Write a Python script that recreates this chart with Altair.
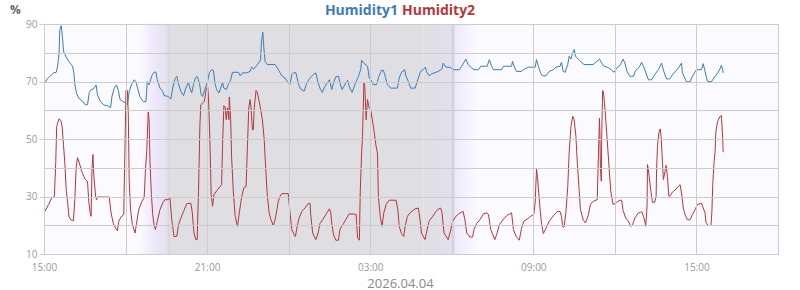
import altair as alt
import pandas as pd

BASE = pd.Timestamp("2026-04-03 15:00")
DATE_LABEL = "2026.04.04"

# Humidity1 (minutes after 15:00, %)
h1_min = [2, 7, 13, 21, 27, 30, 33, 35, 38, 41, 43, 49, 56, 63, 66, 68, 72, 77, 85, 91, 96, 100, 104, 109, 115, 118, 124, 132, 140, 147, 150, 155, 160, 164, 168, 174, 180, 184, 188, 194, 199, 203, 207, 212, 219, 225, 228, 232, 238, 243, 247, 250, 256,
          262, 265, 274, 280, 284, 289, 293, 297, 302, 308, 313, 319, 322, 326, 330, 334, 338, 343, 347, 350, 355, 361, 365, 370, 374, 377, 381, 386, 390, 394, 397, 402, 407, 412, 416, 429, 433, 438, 446, 455, 458, 463, 468, 475, 478, 480, 483, 485, 488, 493, 510, 515, 521,
          525, 532, 539, 543, 547, 552, 556, 561, 566, 574, 580, 587, 594, 600, 605, 609, 614, 620, 630, 635, 639, 644, 650, 653, 658, 664, 670, 675, 680, 686, 694, 699, 701, 706, 714, 718, 721, 727, 734, 739, 745, 749, 753, 758, 765, 780, 784, 789,
          796, 799, 804, 809, 819, 824, 831, 837, 842, 844, 850, 856, 870, 878, 881, 887, 897, 902, 917, 922, 931, 936, 944, 949, 959, 964, 978, 983, 988, 992, 1010, 1014, 1032, 1034, 1039, 1043, 1054, 1058,
          1069, 1084, 1087, 1091, 1096, 1100, 1108, 1115, 1124, 1130, 1139, 1142, 1146, 1150, 1156, 1159, 1163, 1167, 1170, 1173, 1179, 1184, 1192, 1212, 1218, 1226, 1231, 1236, 1245, 1253, 1258, 1264, 1271, 1278, 1282, 1287, 1293, 1301, 1306, 1314,
          1319, 1323, 1326, 1334, 1341, 1348, 1356, 1363, 1368, 1374, 1381, 1389, 1400, 1407, 1409, 1415, 1418, 1426, 1431, 1440, 1451, 1455, 1459, 1464, 1473, 1481, 1488, 1493, 1495, 1498, 1499]
h1_val = [69.5, 70.9, 71.8, 73, 73.2, 75.3, 79.3, 88, 89.4, 85.1, 80.5, 78.5, 76.7, 75.3, 73, 68.9, 65.8, 64.1, 63.2, 61.9, 61.9, 66.2, 67.2, 67.4, 68.8, 65.4, 63.2, 61.8, 61.6, 60.9, 64.8, 67.7, 68.8, 66.9, 63.7, 63.1, 62.5, 61.8, 66.6, 69.2, 70.6, 69.9, 67.4, 64.6, 63, 63, 70, 68.9, 72, 73.2, 73.3, 70.6, 67.7,
          66.6, 65.1, 64.8, 63.9, 67.7, 70.9, 71.8, 69.2, 66.6, 65.1, 67.7, 69.7, 67.7, 66, 68.9, 71.2, 71.8, 69.5, 65.4, 64.8, 67.2, 70, 73, 74.1, 73.9, 69.5, 67.2, 66, 67.7, 69.7, 67.7, 67.2, 68.9, 70.6, 73.2, 73.2, 72, 73, 73, 73.5, 75, 74.3, 75.3, 76.7, 77.6, 84, 87.1, 82.2, 77, 75.9, 75.9, 74.7, 73,
          72, 71.2, 69.5, 68.9, 72.4, 73.2, 73, 69.5, 67.4, 66.6, 69.5, 71.2, 72.4, 73, 69.5, 67.7, 66.2, 68.3, 70.6, 67.2, 69.5, 71.6, 71.8, 69.5, 67.2, 68.9, 70.4, 67.7, 66.2, 68.9, 71.8, 74.1, 77.4, 76.4, 75.3, 71.2, 70.6, 68.9, 68.9, 71.8, 73.9, 73.9, 71.8, 68.9, 67.7, 67.7, 71.2, 73.2,
          74.1, 71.8, 70.1, 67.7, 67.7, 70.1, 73.5, 74.1, 75, 73.5, 72, 72.7, 73.5, 74.3, 76.4, 75, 74.9, 74.1, 74.1, 75.3, 77.8, 75.9, 74.7, 74.1, 74.1, 75.3, 75.3, 77.6, 75.3, 74.1, 74.1, 75.3, 75.3, 77, 74.7, 73.5, 73.5, 74.1,
          75, 75, 77.6, 75.3, 73, 72, 72, 73.5, 74.1, 75, 75.3, 76.7, 73.5, 73.2, 75.9, 78.8, 77.8, 80.1, 81.1, 78.8, 77.8, 77, 75.9, 75.9, 76.7, 77.8, 76.4, 75.3, 74.9, 73.9, 73.2, 74.7, 75.5, 77.8, 76.4, 73.5, 71.8, 71.8, 73.9, 75,
          76.7, 75.3, 74.1, 70.6, 70.6, 72.4, 74.1, 76.4, 73.5, 70.9, 70.9, 72.7, 74.7, 76.4, 73, 70.9, 69.9, 69.9, 71.8, 74.1, 74.1, 76.2, 73.5, 70.1, 69.9, 71.8, 73.2, 74.7, 75.7, 74.1, 73]

# Humidity2 (minutes after 15:00, %)
h2_min = [2, 10, 17, 23, 26, 28, 33, 37, 40, 43, 46, 49, 52, 55, 59, 65, 68, 71, 74, 78, 83, 91, 96, 99, 102, 104, 106, 108, 110, 114, 116, 118, 144, 148, 153, 159, 162, 165, 170, 176, 178, 181, 184, 186, 188, 191, 195, 201, 205, 209, 216, 221, 224, 227, 230, 232, 234, 237, 240, 243, 246, 250, 256, 262, 267,
          274, 278, 282, 287, 293, 297, 302, 308, 315, 324, 327, 331, 335, 338, 341, 344, 346, 350, 354, 358, 361, 363, 366, 369, 372, 375, 383, 392, 394, 397, 400, 402, 405, 408, 409, 412, 414, 418, 422, 427, 431, 436, 441, 446, 449, 452, 455, 457, 460, 462, 464, 468, 471, 477, 482, 486, 489, 493, 497, 501, 506, 510, 514, 517, 521, 525,
          539, 543, 547, 552, 555, 558, 563, 569, 576, 583, 587, 589, 593, 600, 605, 609, 615, 622, 630, 633, 635, 639, 644, 650, 653, 661, 668, 673, 684, 689, 692, 696, 698, 701, 703, 706, 708, 711, 714, 717, 721, 727, 733, 736, 738, 742, 746, 750, 755, 762, 777, 781, 784, 789,
          794, 797, 802, 809, 819, 826, 830, 833, 841, 844, 850, 858, 867, 875, 878, 883, 892, 896, 902, 909, 918, 925, 929, 933, 940, 946, 949, 955, 962, 970, 978, 981, 986, 995, 999, 1005, 1014, 1021, 1028, 1032, 1036, 1042, 1049,
          1054, 1059, 1067, 1074, 1081, 1084, 1087, 1089, 1092, 1095, 1098, 1102, 1108, 1115, 1124, 1133, 1139, 1142, 1145, 1148, 1152, 1156, 1159, 1163, 1167, 1170, 1174, 1177, 1181, 1184, 1190, 1195, 1201, 1206, 1212, 1221, 1223, 1226, 1227, 1228, 1230, 1231, 1233, 1235, 1238, 1243, 1248, 1251, 1256, 1264, 1271, 1275, 1278, 1284, 1290, 1295, 1299, 1304, 1312, 1317,
          1319, 1323, 1326, 1328, 1331, 1332, 1334, 1337, 1340, 1343, 1348, 1351, 1352, 1354, 1357, 1360, 1362, 1365, 1367, 1370, 1373, 1376, 1379, 1381, 1387, 1395, 1400, 1404, 1407, 1411, 1415, 1420, 1426, 1431, 1437, 1442, 1448, 1451, 1455, 1459, 1461, 1466, 1472, 1474, 1476, 1479, 1481, 1483, 1486, 1488, 1492, 1495, 1496, 1498, 1499]
h2_val = [24.8, 27.2, 29.5, 30.1, 42.2, 54.4, 57, 56.5, 54.4, 48, 41.7, 32.4, 28.3, 23.1, 21.9, 21.6, 28.9, 40, 43.5, 41.7, 38.8, 35.9, 35.3, 28, 24.3, 23.1, 40, 44.6, 37, 30.1, 28.9, 29.8, 29.8, 24.3, 20.6, 18.8, 18.1, 21.4, 22.9, 23.7, 41.2, 66.9, 66.9, 59, 35.9, 25.4, 20.2, 17.3, 21.4, 25.4, 28.3, 29.5, 39.4, 46.3, 59.4, 56.7, 41.7, 30.7, 23.7, 19.9, 18.5, 21.4, 25.4, 27.8, 28.9,
          28.9, 29.5, 21.9, 16.1, 16.1, 20.2, 22.5, 24.8, 27.5, 27.7, 24.8, 17.3, 15, 15, 31.8, 54.4, 61.9, 62.5, 63.1, 67.2, 68.3, 64.8, 50.3, 30.6, 26.6, 30.6, 32.4, 34.1, 47.4, 61.6, 61.1, 56.7, 60.8, 56.7, 64.6, 56.7, 44, 31.2, 23.1, 19.6, 24.3, 29.5, 33, 33.5, 47.4, 60.8, 63.7, 60.8, 53.2, 53.2, 60.8, 66.9, 66, 61.4, 56.7, 49.9, 40.6, 30.1, 24.3, 21.9, 19.9, 21.9, 25.4, 28.3, 30.1, 31,
          31, 24.3, 18.5, 16.7, 16.1, 19, 22.5, 24.8, 26, 27.5, 27.7, 23.1, 17.3, 15, 17.3, 20.6, 21.9, 23.7, 25.7, 24.3, 20.8, 16.7, 14.8, 14.8, 18.5, 20.6, 22.5, 23.9, 23.9, 23.7, 15.6, 14.8, 31.8, 45.1, 50.9, 69.5, 68.3, 56.7, 63.7, 61.1, 60.2, 54.4, 47.4, 45.1, 30.1, 23.1, 19.6, 24.3, 27.2, 28.7, 28.7, 25.4, 19.6, 17.1,
          16.1, 19.6, 23.1, 24.5, 25.7, 26, 21.9, 17.3, 15, 17.3, 21.4, 23.1, 25.2, 26, 24.8, 17.3, 15, 17.3, 21.4, 23.1, 24.3, 24.8, 21.9, 17.3, 15.9, 15.9, 18.5, 20.6, 21.9, 24, 24.3, 23.7, 18.5, 15, 16.7, 20.2, 22.1, 23.3, 24, 24.3, 18.5, 16.1, 14.8,
          19, 21.4, 22.2, 23.1, 23.7, 27.7, 39.5, 37, 31.2, 25.4, 20.8, 17.1, 19, 21.4, 23.3, 24.8, 24.8, 23.1, 19.4, 19.4, 24.8, 33.5, 45.1, 54.4, 57.9, 56.7, 50.9, 41.7, 32.4, 25.4, 21.9, 20.8, 23.3, 27.2, 28.3, 28.9, 40.6, 57.3, 51.5, 40.6, 35.3, 51.5, 66.9, 66, 60.8, 49.8, 38.2, 31.8, 27.2, 28, 28.7, 28.7, 25.2, 22.5, 21.4, 19.6, 20.2, 22.5, 24.3, 24.5,
          24.8, 23.1, 21.4, 19.6, 26.6, 41.1, 39.3, 35, 31.2, 28, 28, 30.1, 39.3, 47.4, 52.1, 53.5, 50.9, 41.9, 35.9, 38.2, 40.8, 37, 30.1, 30.1, 31.5, 32.6, 33.5, 34.1, 31.2, 26, 23.7, 21.9, 21.9, 23.7, 25.4, 27.2, 27.5, 27.7, 26, 24.3, 21, 19.9, 19.9, 24.3, 34.1, 42.2, 45.4, 52.7, 55.6, 56.5, 57.9, 58.1, 55.6, 49.8, 45.4]

series_names = ["Humidity1", "Humidity2"]
series_colors = ["#3b7cb9", "#b5363a"]

# day / night shading bands
band_start = ["2026-04-03T18:32:00", "2026-04-03T19:34:00", "2026-04-04T04:58:00", "2026-04-04T06:05:00"]
band_end = ["2026-04-03T19:34:00", "2026-04-04T04:58:00", "2026-04-04T06:05:00", "2026-04-04T06:58:00"]
band_stops = [
    [("#fbfaff", 0.0), ("#efe9fc", 0.45), ("#e3e1ee", 1.0)],
    [("#dfdfe3", 0.0), ("#dfdfe3", 1.0)],
    [("#dfdfe3", 0.0), ("#e2e0ee", 1.0)],
    [("#eee8fc", 0.0), ("#fbfaff", 1.0)],
]
sun_marks = ["2026-04-03T19:34:00", "2026-04-04T06:05:00"]

df = pd.concat([
    pd.DataFrame({"time": BASE + pd.to_timedelta(h1_min, unit="min"), "value": h1_val, "series": series_names[0]}),
    pd.DataFrame({"time": BASE + pd.to_timedelta(h2_min, unit="min"), "value": h2_val, "series": series_names[1]}),
], ignore_index=True)

FONT = "Open Sans"

# x grid every 3 hours from 15:00 to 18:00 next day
x_grid = [alt.DateTime(year=2026, month=4, date=3 + (15 + 3 * i) // 24, hours=(15 + 3 * i) % 24) for i in range(10)]
x_scale = alt.Scale(domain=[x_grid[0], x_grid[-1]])
x_axis = alt.Axis(
    values=x_grid,
    labelExpr="hours(datum.value) % 6 == 3 ? timeFormat(datum.value, '%H:%M') : ''",
    ticks=False, domain=False, labelFlush=False, labelOverlap=False,
    labelPadding=8, labelColor="#9a9a9a", labelFontSize=10, labelFont=FONT,
    gridColor="#cccccc", zindex=1,
    title=DATE_LABEL, titleFont=FONT, titleFontSize=13, titleFontWeight="normal",
    titleColor="#8a8a8a", titleX=356, titleY=33, titleAlign="center", titleBaseline="alphabetic",
)

layers = []
for s, e, stops in zip(band_start, band_end, band_stops):
    grad = alt.Gradient(gradient="linear",
                        stops=[alt.GradientStop(color=c, offset=o) for c, o in stops],
                        x1=0, x2=1, y1=0, y2=0)
    layers.append(
        alt.Chart(pd.DataFrame({"start": [s], "end": [e]}))
        .mark_rect(fill=grad, strokeWidth=0, clip=True)
        .encode(x=alt.X("start:T", title=DATE_LABEL), x2="end:T")
    )

layers.append(
    alt.Chart(pd.DataFrame({"t": sun_marks}))
    .mark_rule(color="#d2d0da", strokeWidth=1, clip=True)
    .encode(x=alt.X("t:T", title=DATE_LABEL))
)

lines = alt.Chart(df).mark_line(strokeWidth=1, clip=True).encode(
    x=alt.X("time:T", scale=x_scale, axis=x_axis),
    y=alt.Y("value:Q", scale=alt.Scale(domain=[10, 90], nice=False),
            axis=alt.Axis(
                values=list(range(10, 91, 10)),
                labelExpr="datum.value % 20 == 10 ? datum.label : ''",
                tickColor={"condition": {"test": "datum.value % 20 == 10", "value": "#cccccc"},
                           "value": "rgba(0,0,0,0)"},
                tickSize=5, labelPadding=2, domain=False,
                labelColor="#9a9a9a", labelFontSize=10, labelFont=FONT,
                gridColor="#cccccc", zindex=1,
                title="%", titleAngle=0, titleX=-29, titleY=-11, titleAlign="center",
                titleBaseline="alphabetic", titleFont=FONT, titleFontSize=12,
                titleFontWeight="bold", titleColor="#666666",
            )),
    color=alt.Color("series:N", scale=alt.Scale(domain=series_names, range=series_colors), legend=None),
)
layers.append(lines)

title_left = alt.Chart(pd.DataFrame({"label": [series_names[0]]})).mark_text(
    align="right", baseline="alphabetic", font=FONT, fontSize=14, fontWeight="bold",
    color=series_colors[0]).encode(x=alt.value(354), y=alt.value(-9), text="label:N")
title_right = alt.Chart(pd.DataFrame({"label": [series_names[1]]})).mark_text(
    align="left", baseline="alphabetic", font=FONT, fontSize=14, fontWeight="bold",
    color=series_colors[1]).encode(x=alt.value(358), y=alt.value(-9), text="label:N")
layers += [title_left, title_right]

chart = alt.layer(*layers).properties(
    width=734, height=230,
    autosize=alt.AutoSizeParams(type="none"),
    padding={"left": 44, "top": 24, "right": 22, "bottom": 36},
    background="white",
).configure_view(fill="#fbfaff", stroke="#cccccc")

chart.save("out.html", embed_options={"renderer": "svg", "actions": False})
